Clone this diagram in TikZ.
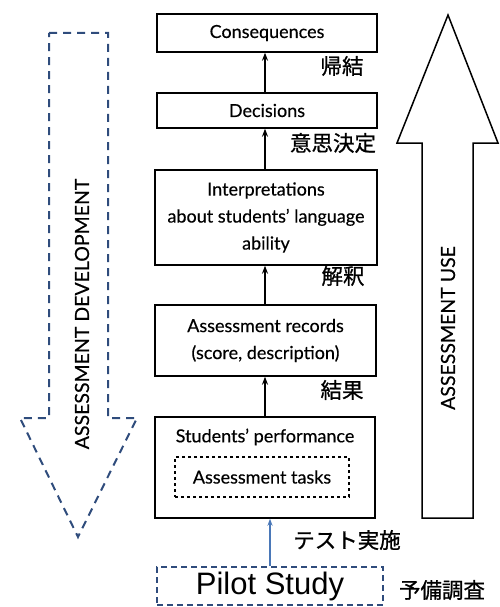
\documentclass[tikz,border=0pt]{standalone}
\usepackage{fontspec}
\setmainfont[FakeBold=0.3]{Lato}
\newfontfamily\jp[FakeBold=0.9]{Noto Sans CJK JP}
\newfontfamily\arialf{Liberation Sans}
\usetikzlibrary{arrows.meta}
\definecolor{navy}{HTML}{2F4C7C}
\definecolor{lblue}{HTML}{4A78B8}
\begin{document}
\begin{tikzpicture}[x=1pt,y=-1pt,
  box/.style={draw=black, line width=1.4pt, inner sep=0pt, align=center, font=\fontsize{18}{27}\selectfont},
  jlab/.style={font=\jp\fontsize{21.5}{22}\selectfont, inner sep=0pt},
  conn/.style={line width=1.3pt, -{Stealth[length=8pt,width=6pt]}},
  big/.style={font=\fontsize{19.5}{20}\selectfont, inner sep=0pt, rotate=90}]
\useasboundingbox (0,0) rectangle (499,607);
\node[box, minimum width=220pt, minimum height=38pt] (cons) at (267,33) {Consequences};
\node[box, minimum width=220pt, minimum height=35pt] (dec) at (267,110.5) {Decisions};
\node[box, minimum width=222pt, minimum height=95pt] (interp) at (266,217.5) {Interpretations\\about students' language\\ability};
\node[box, minimum width=221pt, minimum height=71pt] (rec) at (265.5,340.5) {Assessment records\\(score, description)};
\node[box, minimum width=220pt, minimum height=101pt] (stud) at (265,467.5) {};
\node[font=\fontsize{18}{20}\selectfont, inner sep=0pt] (studt) at (265,437) {Students' performance};
\node[draw=black, dashed, line width=1.1pt, minimum width=174pt, minimum height=40pt, inner sep=0pt, font=\fontsize{18}{20}\selectfont] (tasks) at (262,477) {Assessment tasks};
\node[draw=navy, dashed, line width=2pt, dash pattern=on 6pt off 4pt, minimum width=226pt, minimum height=38pt, inner sep=0pt, font=\arialf\fontsize{31}{32}\selectfont] (pilot) at (270,586) {Pilot Study};
\draw[conn] (dec.north -| 265,0) -- (cons.south -| 265,0);
\draw[conn] (interp.north -| 265,0) -- (dec.south -| 265,0);
\draw[conn] (rec.north -| 265,0) -- (interp.south -| 265,0);
\draw[conn] (stud.north -| 265,0) -- (rec.south -| 265,0);
\draw[line width=1.3pt, lblue, -{Stealth[length=7pt,width=5pt]}] (pilot.north -| 270,0) -- (stud.south -| 270,0);
\node[jlab] (j1) at (342,66) {帰結};
\node[jlab] (j2) at (333,143) {意思決定};
\node[jlab] (j3) at (343,276) {解釈};
\node[jlab] (j4) at (342,390) {結果};
\node[jlab] (j5) at (347,540) {テスト実施};
\node[jlab] (j6) at (442,590) {予備調査};
% development arrow
\draw[navy, line width=2pt, dash pattern=on 8pt off 6pt, line join=miter]
  (49,33) -- (108,33) -- (108,418) -- (137,418) -- (78,537) -- (20,418) -- (49,418) -- cycle;
\node[big] (dev) at (82,314) {ASSESSMENT DEVELOPMENT};
% use arrow
\draw[black, line width=1.5pt, line join=miter]
  (422,518) -- (422,143) -- (397,143) -- (448,15) -- (498,143) -- (473,143) -- (473,518) -- cycle;
\node[big] (use) at (448,328) {ASSESSMENT USE};
\end{tikzpicture}
\end{document}
